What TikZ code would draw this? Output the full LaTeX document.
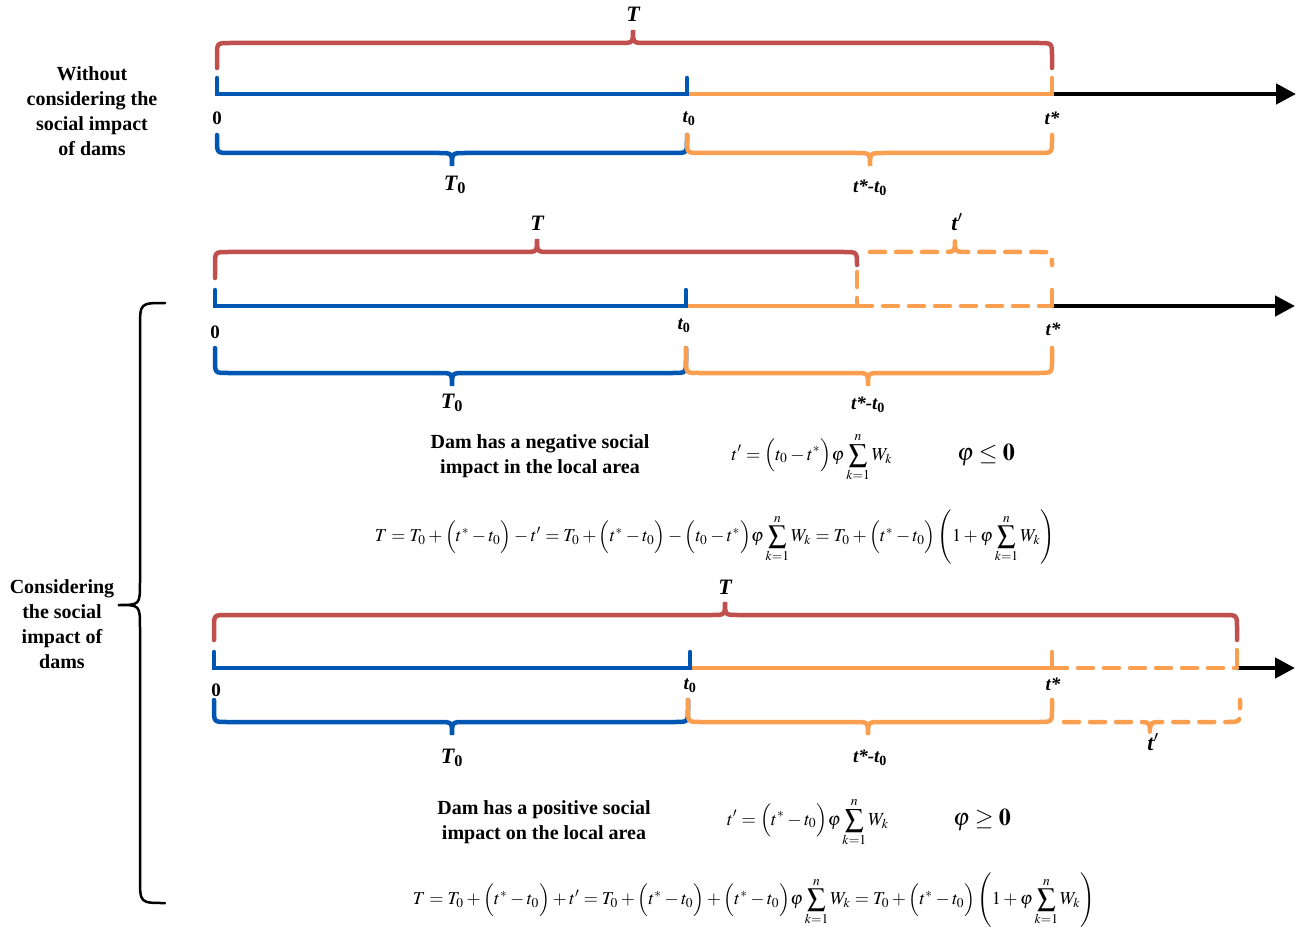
\documentclass[tikz,border=0pt]{standalone}
\usepackage{mathptmx}
\usepackage[no-math]{fontspec}
\setmainfont{Liberation Serif}
\usetikzlibrary{arrows.meta}
\definecolor{cred}{RGB}{192,80,77}
\definecolor{cblue}{RGB}{0,86,179}
\definecolor{corange}{RGB}{250,158,80}
\newcommand\brR{13}
% [opts]{x1}{x2}{cx}{ybar}{yend1}{yend2}{d}
\newcommand\hbr[8][]{\draw[#1] (#2,#6) -- (#2,{#5+(#8)*\brR}) .. controls (#2,#5) .. ({#2+\brR},#5) -- ({#4-\brR},#5) .. controls (#4,#5) .. (#4,{#5-(#8)*\brR}) .. controls (#4,#5) .. ({#4+\brR},#5) -- ({#3-\brR},#5) .. controls (#3,#5) .. (#3,{#5+(#8)*\brR}) -- (#3,#7);}
\newcommand\lb[1]{{\itshape #1}}
\begin{document}
\begin{tikzpicture}[x=1pt,y=-1pt,line cap=round,
  redl/.style={draw=cred,line width=4.5pt},
  bluel/.style={draw=cblue,line width=4.5pt},
  orl/.style={draw=corange,line width=4.5pt},
  ordash/.style={orl,dash pattern=on 15pt off 11pt},
  axarrow/.style={draw=black,line width=4.5pt,line cap=butt,-{Triangle[length=20pt,width=20pt]}},
  lbl/.style={font=\fontsize{22}{24}\selectfont\bfseries,inner sep=0pt},
  lbls/.style={font=\fontsize{19}{21}\selectfont\bfseries,inner sep=0pt},
  ptxt/.style={font=\fontsize{20}{25}\selectfont\bfseries,align=center,inner sep=0pt},
  frm/.style={inner sep=0pt}]
\useasboundingbox (0,0) rectangle (1304,928);
\fill[white] (0,0) rectangle (1304,928);

% ---------- Section 1 ----------
\node[ptxt] (s1txt) at (92,111) {Without\\considering the\\social impact\\of dams};
\hbr[redl]{217}{1052}{633}{43}{68}{68}{1}
\draw[axarrow] (1052,94) -- (1296,94);
\draw[orl] (687,94) -- (1052,94) -- (1052,78);
\draw[bluel] (217,78) -- (217,94) -- (687,94) -- (687,78);
\hbr[bluel]{217}{687}{452}{153}{135}{135}{-1}
\hbr[orl]{687}{1052}{870}{153}{135}{135}{-1}
\node[lbl] (s1T) at (633,14) {\lb{T}};
\node[lbls] (s1z) at (217,118) {0};
\node[lbls] (s1t0) at (689,119) {\lb{t}\textsubscript{0}};
\node[lbls] (s1ts) at (1052,118) {\lb{t*}};
\node[lbl] (s1T0) at (455,185) {\lb{T}\textsubscript{0}};
\node[lbls] (s1d) at (870,188) {\lb{t*-t}\textsubscript{0}};

% ---------- Section 2 ----------
\hbr[redl]{215}{857}{537}{252}{278}{265}{1}
\draw[ordash] (870,252) -- (942,252) .. controls (955,252) .. (955,239) .. controls (955,252) .. (968,252) -- (1039,252) .. controls (1052,252) .. (1052,265);
\draw[axarrow] (1052,306) -- (1295,306);
\draw[ordash] (857,306) -- (1052,306);
\draw[ordash] (857,272) -- (857,306);
\draw[orl] (686,306) -- (857,306);
\draw[orl] (1052,290) -- (1052,306);
\draw[bluel] (215,290) -- (215,306) -- (686,306) -- (686,290);
\hbr[bluel]{215}{686}{452}{373}{348}{348}{-1}
\hbr[orl]{686}{1052}{868}{373}{348}{348}{-1}
\node[lbl] (s2T) at (537,223) {\lb{T}};
\node[lbl] (s2tp) at (957,222) {\lb{t}$^{\prime}$};
\node[lbls] (s2z) at (215,332) {0};
\node[lbls] (s2t0) at (684,326) {\lb{t}\textsubscript{0}};
\node[lbls] (s2ts) at (1053,329) {\lb{t*}};
\node[lbl] (s2T0) at (452,403) {\lb{T}\textsubscript{0}};
\node[lbls] (s2d) at (868,405) {\lb{t*-t}\textsubscript{0}};

\node[ptxt] (negtxt) at (540,456) {Dam has a negative social\\impact in the local area};
\node[frm] (negf) at (812,457) {\resizebox{161pt}{!}{$\displaystyle t'=\Bigl(t_0-t^*\Bigr)\varphi\sum_{k=1}^{n}W_k$}};
\node[frm] (negc) at (986,455) {\resizebox{58pt}{!}{$\varphi\leq\mathbf{0}$}};
\node[frm] (negT) at (715,537) {\resizebox{680pt}{!}{$\displaystyle T=T_0+\Bigl(t^*-t_0\Bigr)-t'=T_0+\Bigl(t^*-t_0\Bigr)-\Bigl(t_0-t^*\Bigr)\varphi\sum_{k=1}^{n}W_k=T_0+\Bigl(t^*-t_0\Bigr)\left(1+\varphi\sum_{k=1}^{n}W_k\right)$}};

% ---------- Section 3 ----------
\hbr[redl]{214}{1237}{725}{615}{640}{640}{1}
\draw[axarrow] (1237,668) -- (1295,668);
\draw[ordash] (1052,668) -- (1237,668);
\draw[ordash] (1237,650) -- (1237,668);
\draw[orl] (690,668) -- (1052,668) -- (1052,652);
\draw[bluel] (214,652) -- (214,668) -- (690,668) -- (690,652);
\hbr[bluel]{214}{688}{452}{722}{700}{700}{-1}
\hbr[orl]{688}{1052}{868}{722}{700}{700}{-1}
\draw[ordash] (1064,722) -- (1137,722) .. controls (1150,722) .. (1150,735) .. controls (1150,722) .. (1163,722) -- (1227,722) .. controls (1240,722) .. (1240,709) -- (1240,700);
\node[lbl] (s3T) at (725,587) {\lb{T}};
\node[lbls] (s3z) at (216,690) {0};
\node[lbls] (s3t0) at (690,686) {\lb{t}\textsubscript{0}};
\node[lbls] (s3ts) at (1053,684) {\lb{t*}};
\node[lbl] (s3T0) at (452,758) {\lb{T}\textsubscript{0}};
\node[lbls] (s3d) at (870,758) {\lb{t*-t}\textsubscript{0}};
\node[lbl] (s3tp) at (1153,742) {\lb{t}$^{\prime}$};

\node[ptxt] (postxt) at (544,822) {Dam has a positive social\\impact on the local area};
\node[frm] (posf) at (808,822) {\resizebox{162pt}{!}{$\displaystyle t'=\Bigl(t^*-t_0\Bigr)\varphi\sum_{k=1}^{n}W_k$}};
\node[frm] (posc) at (982,820) {\resizebox{58pt}{!}{$\varphi\geq\mathbf{0}$}};
\node[frm] (posT) at (754,900) {\resizebox{682pt}{!}{$\displaystyle T=T_0+\Bigl(t^*-t_0\Bigr)+t'=T_0+\Bigl(t^*-t_0\Bigr)+\Bigl(t^*-t_0\Bigr)\varphi\sum_{k=1}^{n}W_k=T_0+\Bigl(t^*-t_0\Bigr)\left(1+\varphi\sum_{k=1}^{n}W_k\right)$}};

% ---------- left brace ----------
\node[ptxt] (s2txt) at (62,624) {Considering\\the social\\impact of\\dams};
\draw[black,line width=2.5pt] (165,303) .. controls (140,303) .. (140,328) -- (140,582) .. controls (140,605) .. (118,605) .. controls (140,605) .. (140,628) -- (140,878) .. controls (140,903) .. (165,903);
\end{tikzpicture}
\end{document}
